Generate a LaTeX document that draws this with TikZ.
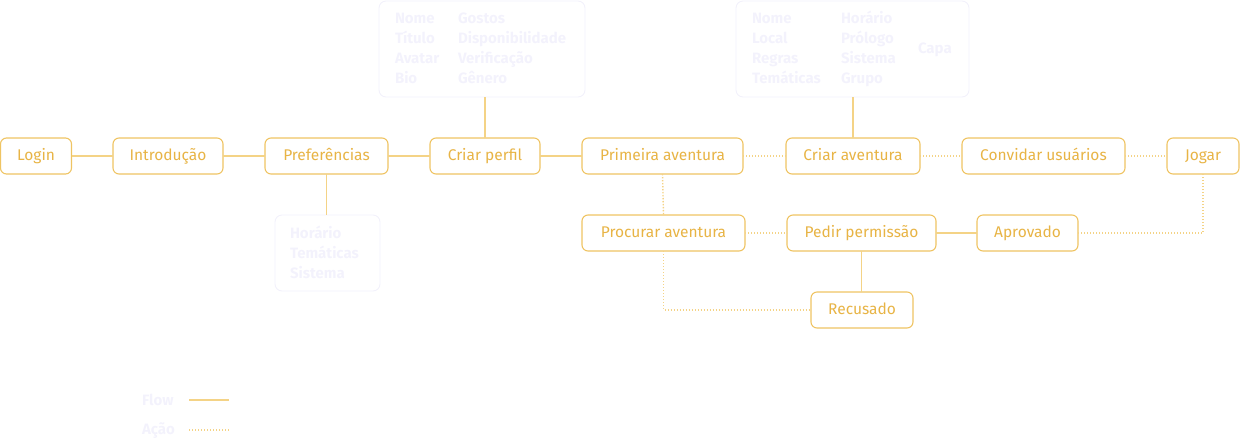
\documentclass[tikz,border=0pt]{standalone}
\usepackage{fontspec}
\setmainfont{Fira Sans}
\begin{document}
\begin{tikzpicture}[x=1pt,y=-1pt,
  every node/.style={inner sep=0pt,outer sep=0pt},
  flowbox/.style={draw=boxorange,line width=1.1pt,rounded corners=6pt,fill=white,
     minimum height=36pt,text=txtorange,font=\fontsize{15.5}{17}\selectfont,
     text height=11pt,text depth=3pt,anchor=west},
  infobox/.style={draw=faintline,line width=0.9pt,rounded corners=7pt,anchor=north west},
  infotxt/.style={text=fainttxt,font=\bfseries\fontsize{15}{17}\selectfont,
     text height=11pt,text depth=3pt,anchor=west},
  flow/.style={draw=lineorange,line width=1.4pt},
  acao/.style={draw=lineorange,line width=1.4pt,dash pattern=on 1.4pt off 1.6pt}
]
\definecolor{boxorange}{HTML}{EFC463}
\definecolor{txtorange}{HTML}{E8B445}
\definecolor{lineorange}{HTML}{F4D386}
\definecolor{faintline}{HTML}{F2F1FB}
\definecolor{fainttxt}{HTML}{F3F2FC}
\useasboundingbox (0,0) rectangle (1240,440);

% info boxes
\node[infobox,minimum width=206pt,minimum height=96pt] (perfilinfo) at (379,1) {};
\node[infobox,minimum width=233pt,minimum height=96pt] (aventinfo) at (736,1) {};
\node[infobox,minimum width=105pt,minimum height=76pt] (prefinfo) at (275,215) {};

\node[infotxt] (p1) at (395,19) {Nome};
\node[infotxt] (p2) at (395,39) {Título};
\node[infotxt] (p3) at (395,59) {Avatar};
\node[infotxt] (p4) at (395,79) {Bio};
\node[infotxt] (p5) at (458,19) {Gostos};
\node[infotxt] (p6) at (458,39) {Disponibilidade};
\node[infotxt] (p7) at (458,59) {Verificação};
\node[infotxt] (p8) at (458,79) {Gênero};

\node[infotxt] (a1) at (752,19) {Nome};
\node[infotxt] (a2) at (752,39) {Local};
\node[infotxt] (a3) at (752,59) {Regras};
\node[infotxt] (a4) at (752,79) {Temáticas};
\node[infotxt] (a5) at (841,19) {Horário};
\node[infotxt] (a6) at (841,39) {Prólogo};
\node[infotxt] (a7) at (841,59) {Sistema};
\node[infotxt] (a8) at (841,79) {Grupo};
\node[infotxt] (a9) at (918,49) {Capa};

\node[infotxt] (r1) at (290,234) {Horário};
\node[infotxt] (r2) at (290,254) {Temáticas};
\node[infotxt] (r3) at (290,274) {Sistema};

% flow boxes
\node[flowbox,minimum width=71pt] (login) at (0.5,156) {Login};
\node[flowbox,minimum width=110pt] (intro) at (113,156) {Introdução};
\node[flowbox,minimum width=123pt] (pref) at (265,156) {Preferências};
\node[flowbox,minimum width=110pt] (perfil) at (430,156) {Criar perfil};
\node[flowbox,minimum width=161pt] (primeira) at (582,156) {Primeira aventura};
\node[flowbox,minimum width=134pt] (criar) at (786,156) {Criar aventura};
\node[flowbox,minimum width=163pt] (convidar) at (962,156) {Convidar usuários};
\node[flowbox,minimum width=72pt] (jogar) at (1167,156) {Jogar};
\node[flowbox,minimum width=163pt] (procurar) at (582,233) {Procurar aventura};
\node[flowbox,minimum width=149pt] (pedir) at (787,233) {Pedir permissão};
\node[flowbox,minimum width=101pt] (aprovado) at (977,233) {Aprovado};
\node[flowbox,minimum width=102pt] (recusado) at (811,310) {Recusado};

% connectors
\draw[flow] (login) -- (intro);
\draw[flow] (intro) -- (pref);
\draw[flow] (pref) -- (perfil);
\draw[flow] (perfil) -- (primeira);
\draw[flow] (pref.south) -- (pref.south |- prefinfo.north);
\draw[flow] (perfil.north) -- (perfil.north |- perfilinfo.south);
\draw[flow] (aventinfo.south -| criar.north) -- (criar.north);
\draw[acao] (primeira) -- (criar);
\draw[acao] (criar) -- (convidar);
\draw[acao] (convidar) -- (jogar);
\draw[acao] (primeira.south) -- (procurar.north);
\draw[acao] (procurar) -- (pedir);
\draw[flow] (pedir) -- (aprovado);
\draw[flow] (pedir.south) -- (pedir.south |- recusado.north);
\draw[acao] (procurar.south) |- (recusado.west);
\draw[acao] (aprovado.east) -| (jogar.south);

% legend
\node[infotxt] (lflow) at (142,401) {Flow};
\node[infotxt] (lacao) at (142,430) {Ação};
\coordinate (f1) at (189,400);
\coordinate (f2) at (229,400);
\coordinate (g1) at (189,430);
\coordinate (g2) at (229,430);
\draw[flow] (f1) -- (f2);
\draw[acao] (g1) -- (g2);
\end{tikzpicture}
\end{document}
